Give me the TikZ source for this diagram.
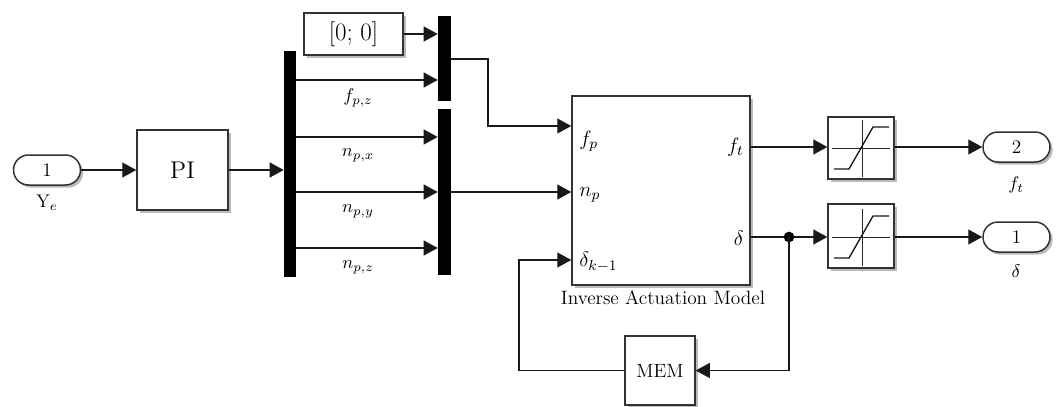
\documentclass[tikz,border=0pt]{standalone}
\usepackage{fix-cm}
\usepackage{fontspec}
\usetikzlibrary{arrows.meta,shadows,calc}
\newcommand\pxu{0.6pt}
\tikzset{
  x=0.6pt,y=-0.6pt,
  wire/.style={draw=black!90,line width=0.75pt},
  arr/.style={wire,-{Triangle[length=8.4pt,width=9pt]}},
  blk/.style={draw=black!80,line width=0.9pt,fill=white,inner sep=0pt,
    drop shadow={shadow xshift=1.6pt,shadow yshift=-1.6pt,fill=black!45,opacity=0.6}},
  bar/.style={fill=black,draw=none,inner sep=0pt},
  pill/.style={blk,rounded corners=9pt},
  lbl/.style={inner sep=0pt,font=\fontsize{11}{13}\selectfont},
  plbl/.style={inner sep=0pt,font=\fontsize{12.5}{14}\selectfont},
}
\begin{document}
\begin{tikzpicture}
\useasboundingbox (0,0) rectangle (1061,407);
% blocks
\node[pill,minimum width=67*\pxu,minimum height=30*\pxu,font=\fontsize{11.5}{13}\selectfont] (in1) at (47,170) {1};
\node[lbl] (in1l) at (47,203) {Y$_e$};
\node[blk,minimum width=91*\pxu,minimum height=80*\pxu,font=\fontsize{14.5}{16}\selectfont] (pi) at (182.5,170) {PI};
\node[bar,minimum width=12*\pxu,minimum height=226*\pxu] (demux) at (290,164) {};
\node[blk,minimum width=99*\pxu,minimum height=42*\pxu,font=\fontsize{15}{17}\selectfont] (const) at (353.5,34) {[0; 0]};
\node[bar,minimum width=13*\pxu,minimum height=85*\pxu] (mux1) at (444.5,58.5) {};
\node[bar,minimum width=13*\pxu,minimum height=166*\pxu] (mux2) at (444.5,192) {};
\node[blk,minimum width=178*\pxu,minimum height=189*\pxu] (iam) at (661,190.5) {};
\node[inner sep=0pt,font=\fontsize{11.6}{13}\selectfont] (iaml) at (663,298) {Inverse Actuation Model};
\node[plbl,anchor=west] (fpl) at (579,141) {$f_p$};
\node[plbl,anchor=west] (npl) at (579,195) {$n_p$};
\node[plbl,anchor=west] (dkl) at (579,262) {$\delta_{k-1}$};
\node[plbl,anchor=east] (ftl) at (744,147) {$f_t$};
\node[plbl,anchor=east] (dl) at (744,238) {$\delta$};
\node[blk,minimum width=66*\pxu,minimum height=62*\pxu] (sat1) at (861,148) {};
\node[blk,minimum width=66*\pxu,minimum height=64*\pxu] (sat2) at (861,236) {};
\node[pill,minimum width=67*\pxu,minimum height=30*\pxu,font=\fontsize{11.5}{13}\selectfont] (out2) at (1016.5,147) {2};
\node[lbl] (out2l) at (1016,185) {$f_t$};
\node[pill,minimum width=67*\pxu,minimum height=30*\pxu,font=\fontsize{11.5}{13}\selectfont] (out1) at (1016.5,237) {1};
\node[lbl] (out1l) at (1016,271) {$\delta$};
\node[blk,minimum width=70*\pxu,minimum height=69*\pxu,font=\fontsize{11.5}{13}\selectfont] (mem) at (660,370.5) {MEM};
% demux labels
\node[lbl] (l1) at (358,98) {$f_{p,z}$};
\node[lbl] (l2) at (358,155) {$n_{p,x}$};
\node[lbl] (l3) at (358,211) {$n_{p,y}$};
\node[lbl] (l4) at (358,267) {$n_{p,z}$};
% saturation icons
\foreach \s/\c in {sat1/148,sat2/237}{
  \draw[black!85,line width=0.6pt] (832,\c) -- (890,\c);
  \draw[black!85,line width=0.6pt] (862,\c-28) -- (862,\c+29);
  \draw[black!90,line width=0.8pt] (834,\c+21) -- (849,\c+21) -- (873,\c-21) -- (889,\c-21);
}
% connectors
\draw[arr] (in1.east) -- (pi.west);
\draw[arr] (pi.east) -- (pi.east -| demux.west);
\draw[arr] (const.east) -- (const.east -| mux1.west);
\draw[arr] (demux.east |- 0,80) -- (mux1.west |- 0,80);
\draw[arr] (demux.east |- 0,137) -- (mux2.west |- 0,137);
\draw[arr] (demux.east |- 0,192) -- (mux2.west |- 0,192);
\draw[arr] (demux.east |- 0,248) -- (mux2.west |- 0,248);
\draw[arr] (mux1.east |- 0,59) -- (488,59) -- (488,126) -- (iam.west |- 0,126);
\draw[arr] (mux2.east |- 0,192) -- (iam.west |- 0,192);
\draw[arr] (iam.east |- 0,147) -- (sat1.west |- 0,147);
\draw[arr] (sat1.east |- 0,147) -- (out2.west);
\coordinate (jn) at (789,237);
\draw[arr] (iam.east |- jn) -- (sat2.west |- jn);
\fill[black] (jn) circle (3.2pt);
\draw[arr] (sat2.east |- jn) -- (out1.west);
\draw[arr] (jn) -- (jn |- mem.east) -- (mem.east);
\draw[arr] (mem.west) -- (519,370.5) -- (519,260) -- (iam.west |- 0,260);
\end{tikzpicture}
\end{document}
